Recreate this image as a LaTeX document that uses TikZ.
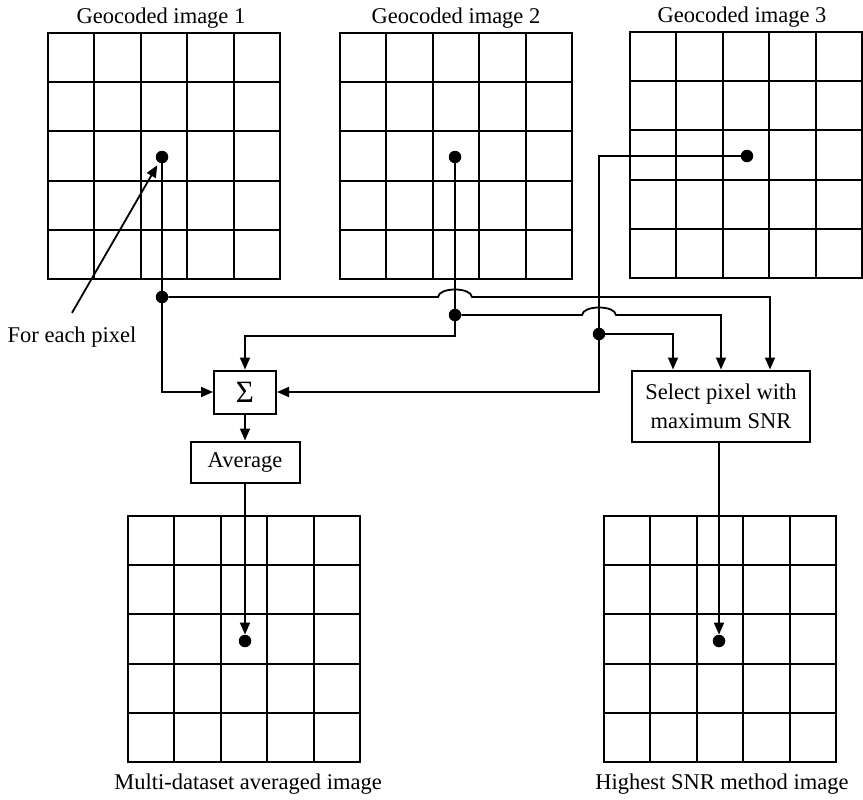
\documentclass[tikz,border=0pt]{standalone}
\usepackage{fontspec}
\setmainfont{Liberation Serif}
\usetikzlibrary{arrows.meta}

\tikzset{
  pixgrid/.style={line width=2pt},
  dot/.style={circle,fill,inner sep=0pt,minimum size=12.5pt},
  conn/.style={line width=1.8pt},
  arr/.style={conn,-{Triangle[width=10pt,length=12pt]}},
  box/.style={draw,line width=2pt,inner sep=0pt,align=center},
  title/.style={anchor=base},
}

\begin{document}
\begin{tikzpicture}[x=1pt,y=-1pt,font=\fontsize{22.5}{29}\selectfont]
\useasboundingbox (0,0) rectangle (863,800);
% pixel grids
\foreach \gx/\gy in {48/33,340/33,630/32,128/516,604/516} {
  \begin{scope}[shift={(\gx,\gy)}]
    \draw[pixgrid] (0,0) rectangle (232,246);
    \foreach \i in {1,...,4} {
      \draw[pixgrid] (\i*46.4,0) -- (\i*46.4,246);
      \draw[pixgrid] (0,\i*49.2) -- (232,\i*49.2);
    }
  \end{scope}
}
\node[title] (t1) at (161,24) {Geocoded image 1};
\node[title] (t2) at (456,24) {Geocoded image 2};
\node[title] (t3) at (742,23) {Geocoded image 3};
\node[title] (t4) at (248,789) {Multi-dataset averaged image};
\node[title] (t5) at (722,789) {Highest SNR method image};
\node[title] (fep) at (72,342) {For each pixel};
% pixels and junctions
\node[dot] (d1) at (162,157) {};
\node[dot] (d2) at (455,157) {};
\node[dot] (d3) at (747,156) {};
\node[dot] (d4) at (245,641) {};
\node[dot] (d5) at (719,641) {};
\node[dot] (j1) at (162,297) {};
\node[dot] (j2) at (455,315) {};
\node[dot] (j3) at (599,334) {};
\coordinate (c2) at (455,336);
\coordinate (h1) at (j1 -| d2);
\coordinate (h2) at (j2 -| j3);
% operations
\node[box,minimum width=62pt,minimum height=43pt,font=\fontsize{31}{31}\selectfont] (sum) at (245,392) {Σ};
\node[box,minimum width=109pt,minimum height=41pt] (avg) at (245,462) {Average};
\node[box,minimum width=178pt,minimum height=71pt] (sel) at (721,406) {Select pixel with\\maximum SNR};
% connectors
\draw[arr,shorten >=3pt] ([yshift=10pt]fep.north) -- (d1);
\draw[arr] (d1) |- (sum.west);
\draw[arr] (d2) -- (c2) -| (sum.north);
\draw[arr] (d3) -| (j3) |- (sum.east);
\draw[arr] (j1) -- ([xshift=-17pt]h1) .. controls ([xshift=-16pt,yshift=10pt]h1) and ([xshift=16pt,yshift=10pt]h1) .. ([xshift=17pt]h1) -| ([xshift=49pt]sel.north);
\draw[arr] (j2) -- ([xshift=-17pt]h2) .. controls ([xshift=-16pt,yshift=10pt]h2) and ([xshift=16pt,yshift=10pt]h2) .. ([xshift=17pt]h2) -| (sel.north);
\draw[arr] (j3) -| ([xshift=-48pt]sel.north);
\draw[arr] (sum) -- (avg);
\draw[arr] (avg.south -| d4) -- (d4);
\draw[arr] (sel.south -| d5) -- (d5);
\end{tikzpicture}
\end{document}
